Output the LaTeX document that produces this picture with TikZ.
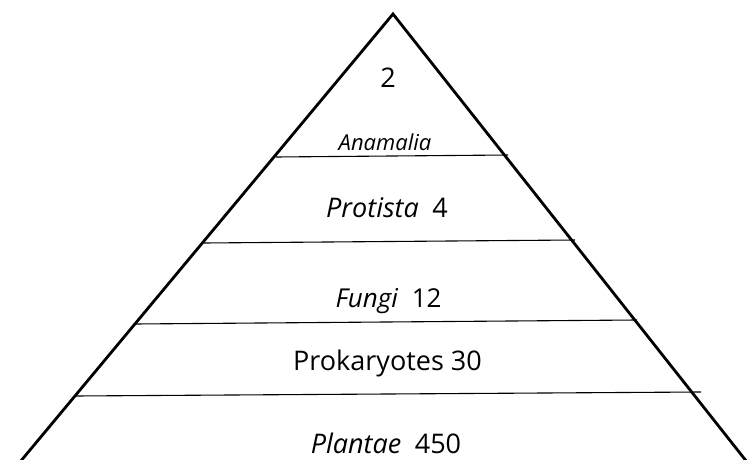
\documentclass[tikz,border=0pt]{standalone}
\usepackage{fontspec}
\setmainfont{Open Sans}
\usetikzlibrary{calc,positioning}

\begin{document}
\begin{tikzpicture}[x=1pt,y=-1pt,
    edge/.style={line width=2.8pt,line cap=round,line join=miter},
    layer/.style={line width=1.1pt},
    lbl/.style={inner sep=0pt,anchor=base},
    big/.style={font=\fontsize{27}{30}\selectfont},
    mid/.style={font=\fontsize{26}{29}\selectfont},
    small/.style={font=\fontsize{22}{25}\selectfont}]
    \useasboundingbox (0,0) rectangle (753,460);

    % corners of the pyramid
    \coordinate (apex) at (393,14);
    \coordinate (baseL) at (20,462);
    \coordinate (baseR) at (747,462);

    \draw[edge] (baseL) -- (apex) -- (baseR);

    % layer borders
    \coordinate (a1) at (276,157); \coordinate (b1) at (508,155);
    \coordinate (a2) at (204,243); \coordinate (b2) at (575,240);
    \coordinate (a3) at (135,324); \coordinate (b3) at (637,320);
    \coordinate (a4) at (75,396);  \coordinate (b4) at (701,392);
    \foreach \i in {1,...,4}
        \draw[layer] (a\i) -- (b\i);

    % labels (placed by baseline)
    \node[lbl,big] (top) at (388,88) {2};
    \node[lbl,small] (anamalia) at (385,150) {\textit{Anamalia}};
    \node[lbl,big] (protista) at (387,217) {\textit{Protista}\enspace 4};
    \node[lbl,mid] (fungi) at (388.5,307) {\textit{Fungi}\ \ 12};
    \node[lbl,big] (prokaryotes) at (387.5,370) {Prokaryotes 30};
    \node[lbl,big] (plantae) at (386,453) {\textit{Plantae}\enspace 450};

\end{tikzpicture}
\end{document}
